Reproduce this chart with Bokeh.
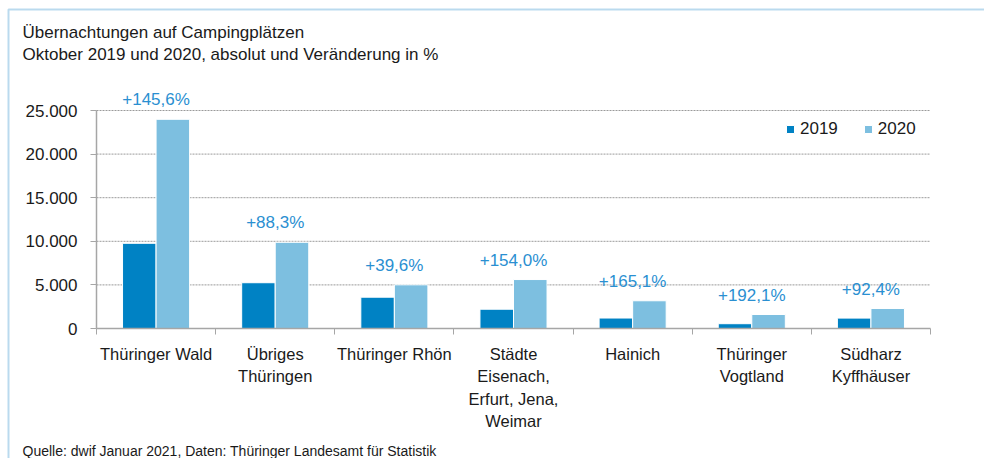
from bokeh.plotting import figure
from bokeh.models import (ColumnDataSource, FixedTicker, LabelSet, Label, Range1d,
                          LinearAxis, BoxAnnotation)
from bokeh.core.properties import value
from bokeh.embed import file_html
from bokeh.resources import INLINE

# ---------------- data ----------------
categories = ["Thüringer Wald", "Übriges\nThüringen", "Thüringer Rhön",
              "Städte\nEisenach,\nErfurt, Jena,\nWeimar", "Hainich",
              "Thüringer\nVogtland", "Südharz\nKyffhäuser"]
values_2019 = [9770, 5250, 3590, 2210, 1200, 550, 1190]
values_2020 = [23990, 9885, 5010, 5615, 3180, 1605, 2290]
change_labels = ["+145,6%", "+88,3%", "+39,6%", "+154,0%", "+165,1%", "+192,1%", "+92,4%"]
series_names = ["2019", "2020"]
y_ticks = [0, 5000, 10000, 15000, 20000, 25000]
y_tick_labels = ["0", "5.000", "10.000", "15.000", "20.000", "25.000"]
title_lines = ["Übernachtungen auf Campingplätzen",
               "Oktober 2019 und 2020, absolut und Veränderung in %"]
source_note = "Quelle: dwif Januar 2021, Daten: Thüringer Landesamt für Statistik"

# ---------------- styles / layout ----------------
C2019 = "#0082C4"
C2020 = "#7DBFE0"
CPCT = "#2A8FD1"
CBORDER = "#1A86C8"
GRAY = "#A6A6A6"
FONT = "Liberation Sans"
TXT = "#1A1A1A"

W, H = 984, 458
PL, PR, PB = 96, 930, 328    # plot area (x=0..n, y=0) in canvas px
n = len(categories)
Y_MAX_TICK = y_ticks[-1]
PXY = 218 / Y_MAX_TICK       # px per data unit (y)
PXX = (PR - PL) / n          # px per category

x_start = -PL / PXX
x_end = n + (W - PR) / PXX
y_end = PB / PXY
y_start = -(H - PB) / PXY


def dx(px):
    return (px - PL) / PXX


def dy(py):
    return (PB - py) / PXY


p = figure(width=W, height=H, output_backend="svg", toolbar_location=None,
           x_range=Range1d(x_start, x_end), y_range=Range1d(y_start, y_end),
           x_axis_location=None, y_axis_location=None,
           min_border=0, min_border_left=0, min_border_right=0,
           min_border_top=0, min_border_bottom=0)
p.outline_line_color = None
p.background_fill_color = "white"
p.border_fill_color = "white"
p.grid.visible = False

# blue frame (left and top edges)
p.add_layout(BoxAnnotation(left=dx(8), top=dy(9), right=x_end + 5, bottom=y_start - 5000,
                           fill_alpha=0, line_color=CBORDER, line_width=2))

# horizontal dotted gridlines
grid_y = y_ticks[1:]
p.segment(x0=[0] * len(grid_y), x1=[n] * len(grid_y), y0=grid_y, y1=grid_y,
          line_color="#9A9A9A", line_dash="2 1", line_width=1)

# bars
bw = 0.2815
off = bw / 2
xs = [i + 0.5 for i in range(n)]
src = ColumnDataSource(dict(x19=[x - off for x in xs], x20=[x + off for x in xs],
                            v19=values_2019, v20=values_2020))
p.vbar(x="x19", top="v19", width=bw, source=src, fill_color=C2019,
       line_color="white", line_width=1, legend_label=series_names[0])
p.vbar(x="x20", top="v20", width=bw, source=src, fill_color=C2020,
       line_color="white", line_width=1, legend_label=series_names[1])

# axes (fixed at the data origin)
yax = LinearAxis(fixed_location=0, ticker=FixedTicker(ticks=y_ticks))
yax.major_label_overrides = {t: l for t, l in zip(y_ticks, y_tick_labels)}
yax.bounds = (0, Y_MAX_TICK)
yax.axis_line_color = GRAY
yax.axis_line_width = 1.5
yax.major_tick_line_color = GRAY
yax.major_tick_out = 6
yax.major_tick_in = 0
yax.minor_tick_line_color = None
yax.major_label_standoff = 13
yax.major_label_text_font = FONT
yax.major_label_text_font_size = "17px"
yax.major_label_text_color = TXT
p.add_layout(yax, "left")

xax = LinearAxis(fixed_location=0, ticker=FixedTicker(ticks=list(range(n + 1))))
xax.major_label_overrides = {i: "" for i in range(n + 1)}
xax.bounds = (0, n)
xax.axis_line_color = GRAY
xax.axis_line_width = 1.5
xax.major_tick_line_color = GRAY
xax.major_tick_out = 6
xax.major_tick_in = 0
xax.minor_tick_line_color = None
p.add_layout(xax, "below")

# category labels (multi-line)
lx, ly, lt = [], [], []
for i, cat in enumerate(categories):
    for j, line in enumerate(cat.split("\n")):
        lx.append(i + 0.5)
        ly.append(dy(359 + 22.6 * j))
        lt.append(line)
p.add_layout(LabelSet(x="x", y="y", text="t", source=ColumnDataSource(dict(x=lx, y=ly, t=lt)),
                      text_align="center", text_baseline="alphabetic",
                      text_font=value(FONT), text_font_size=value("16.5px"),
                      text_color=TXT))

# percentage labels
pct_src = ColumnDataSource(dict(x=xs, y=[max(a, b) + 14 / PXY for a, b in zip(values_2019, values_2020)],
                                t=change_labels))
p.add_layout(LabelSet(x="x", y="y", text="t", source=pct_src, text_align="center",
                      text_baseline="alphabetic", text_font=value(FONT),
                      text_font_size=value("17px"), text_color=CPCT))

# title & footer
for k, line in enumerate(title_lines):
    p.add_layout(Label(x=dx(22), y=dy(32 + 22 * k), text=line, text_align="left",
                       text_baseline="alphabetic", text_font=FONT, text_font_size="17px",
                       text_color=TXT))
p.add_layout(Label(x=dx(22), y=dy(450), text=source_note, text_align="left",
                   text_baseline="alphabetic", text_font=FONT, text_font_size="14px",
                   text_color=TXT))

# legend
lg = p.legend[0]
lg.orientation = "horizontal"
lg.location = (785, H - 139)
lg.padding = 0
lg.margin = 0
lg.spacing = 25
lg.glyph_width = 10
lg.glyph_height = 10
lg.label_height = 10
lg.label_standoff = 5
lg.border_line_color = None
lg.background_fill_alpha = 0
lg.label_text_font = FONT
lg.label_text_font_size = "17px"
lg.label_text_color = TXT
lg.label_text_baseline = "middle"

open("out.html", "w").write(file_html(p, INLINE))
